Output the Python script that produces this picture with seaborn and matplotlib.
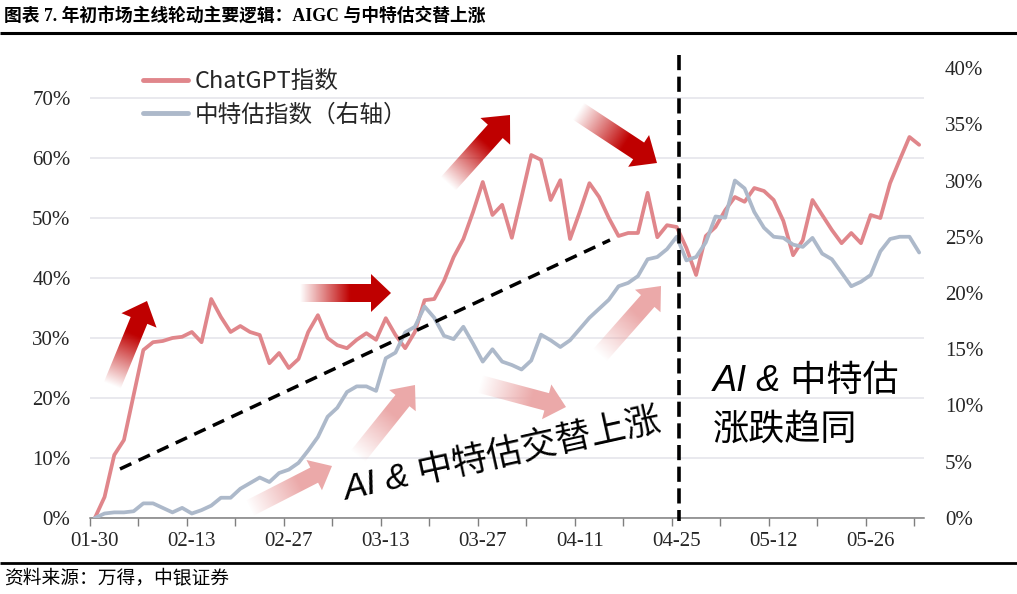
import numpy as np
import pandas as pd
import matplotlib
matplotlib.use('Agg')
import matplotlib.pyplot as plt
import matplotlib.colors as mcolors
import seaborn as sns
from matplotlib.patches import Polygon
from matplotlib.lines import Line2D
from matplotlib.ticker import FixedLocator, FuncFormatter

# ---------------- data (percent) ----------------
chatgpt = [0, 3.5, 10.5, 13, 20.5, 28, 29.3, 29.5, 30, 30.2,
           31, 29.3, 36.5, 33.5, 31, 32, 31, 30.5, 25.8, 27.5,
           25, 26.5, 31, 33.8, 30, 28.8, 28.3, 29.7, 30.8, 29.7,
           33.3, 30.5, 28.3, 31, 36.3, 36.5, 39.5, 43.5, 46.5, 51,
           56, 50.5, 52.2, 46.7, 53.5, 60.5, 59.7, 53, 56.3, 46.5,
           51, 55.8, 53.5, 50, 47, 47.5, 47.5, 54.2, 46.8, 48.8,
           48.5, 45, 40.5, 47, 48.5, 51.3, 53.5, 52.7, 55, 54.5,
           53, 49.5, 43.8, 46.3, 53, 50.5, 48, 45.8, 47.5, 45.8,
           50.5, 50, 55.8, 59.7, 63.5, 62.2]
zhongte = [0, 0.4, 0.5, 0.5, 0.6, 1.3, 1.3, 0.9, 0.5, 0.9,
           0.4, 0.7, 1.1, 1.8, 1.8, 2.6, 3.1, 3.6, 3.2, 4.0,
           4.3, 4.9, 6.0, 7.2, 9.0, 9.8, 11.2, 11.7, 11.7, 11.3,
           14.2, 14.7, 16.5, 17.0, 18.8, 17.8, 16.2, 15.9, 17.0, 15.5,
           13.9, 15.0, 13.9, 13.6, 13.2, 14.0, 16.3, 15.8, 15.2, 15.8,
           16.8, 17.8, 18.6, 19.4, 20.6, 20.9, 21.5, 23.0, 23.2, 23.9,
           25.0, 22.9, 23.2, 24.5, 26.8, 26.7, 30.0, 29.3, 27.2, 25.8,
           25.0, 24.9, 24.3, 24.1, 24.9, 23.5, 23.0, 21.8, 20.6, 21.0,
           21.6, 23.7, 24.8, 25.0, 25.0, 23.6]
tick_labels = ["01-30", "02-13", "02-27", "03-13", "03-27", "04-11", "04-25", "05-12", "05-26"]
tick_pos = [0, 10, 20, 30, 40, 50, 60, 70, 80]
series_names = ["ChatGPT指数", "中特估指数（右轴）"]
left_ticks = [0, 10, 20, 30, 40, 50, 60, 70]
right_ticks = [0, 5, 10, 15, 20, 25, 30, 35, 40]

title = "图表 7. 年初市场主线轮动主要逻辑：AIGC 与中特估交替上涨"
source = "资料来源：万得，中银证券"
note1 = "AI & 中特估交替上涨"
note2a = "AI & 中特估"
note2b = "涨跌趋同"

RED = '#E0868B'
BLUE = '#ADB9CA'
DARK = '#C00000'
PINK = '#ECAAAA'

sns.set_theme(style='white')
plt.rcParams['font.family'] = ['Liberation Serif', 'Noto Sans CJK SC']
plt.rcParams['axes.unicode_minus'] = False

W, H = 1017, 594
fig = plt.figure(figsize=(W / 100, H / 100), dpi=100)
fig.patch.set_facecolor('white')
L, R, B, T = 90, 924, 518, 68
ax = fig.add_axes([L / W, 1 - B / H, (R - L) / W, (B - T) / H])
ax2 = ax.twinx()

df = pd.DataFrame({'idx': np.arange(len(chatgpt)), 'chatgpt': chatgpt, 'zt': zhongte})
sns.lineplot(data=df, x='idx', y='chatgpt', ax=ax, color=RED, linewidth=2.7)
sns.lineplot(data=df, x='idx', y='zt', ax=ax2, color=BLUE, linewidth=2.7)

pct = FuncFormatter(lambda v, p: f"{v:.0f}%")
ax.set_xlim(-0.5, len(chatgpt) - 0.5)
ax.set_ylim(0, 75)
ax.set_yticks(left_ticks)
ax.yaxis.set_major_formatter(pct)
ax2.set_ylim(0, 40)
ax2.set_yticks(right_ticks)
ax2.yaxis.set_major_formatter(pct)
ax.set_xlabel('')
ax.set_ylabel('')
ax2.set_ylabel('')
ax2.set_xlabel('')

ax.xaxis.set_major_locator(FixedLocator(tick_pos))
ax.set_xticklabels(tick_labels)
ax.xaxis.set_minor_locator(FixedLocator(np.arange(-0.5, len(chatgpt), 5)))
ax.tick_params(axis='x', which='major', length=0, pad=10, labelsize=15, bottom=True)
ax.tick_params(axis='x', which='minor', length=6, width=1, color='#7F7F7F', direction='out', bottom=True)
ax.tick_params(axis='y', length=0, pad=14, labelsize=15)
ax2.tick_params(axis='y', length=0, pad=15, labelsize=15)

ax.yaxis.grid(True, color='#E3E3EA', linewidth=1.1)
ax.xaxis.grid(False)
ax2.grid(False)
for s in ['left', 'right', 'top']:
    ax.spines[s].set_visible(False)
for s in ax2.spines:
    ax2.spines[s].set_visible(False)
ax.spines['bottom'].set_color('#7F7F7F')
ax.spines['bottom'].set_linewidth(1.1)

# ---------------- overlay for annotations (pixel coordinates) ----------------
ov = fig.add_axes([0, 0, 1, 1], zorder=10)
ov.set_xlim(0, W)
ov.set_ylim(H, 0)
ov.axis('off')
ov.patch.set_alpha(0)


def grad_arrow(tail, tip, w, hw, hl, color, fade=0.6):
    p0 = np.array(tail, float)
    p1 = np.array(tip, float)
    d = p1 - p0
    ln = np.hypot(*d)
    u = d / ln
    n = np.array([-u[1], u[0]])
    pb = p1 - u * hl
    pts = np.array([p0 + n * w / 2, pb + n * w / 2, pb + n * hw / 2, p1,
                    pb - n * hw / 2, pb - n * w / 2, p0 - n * w / 2])
    poly = Polygon(pts, closed=True, facecolor='none', edgecolor='none', transform=ov.transData)
    ov.add_patch(poly)
    x0, y0 = pts.min(0) - 2
    x1, y1 = pts.max(0) + 2
    nx = int(np.ceil(x1 - x0)) * 2
    ny = int(np.ceil(y1 - y0)) * 2
    xs = x0 + (np.arange(nx) + 0.5) * (x1 - x0) / nx
    ys = y0 + (np.arange(ny) + 0.5) * (y1 - y0) / ny
    X, Y = np.meshgrid(xs, ys)
    t = ((X - p0[0]) * u[0] + (Y - p0[1]) * u[1]) / ln
    a = np.clip(t / fade, 0, 1)
    img = np.zeros((ny, nx, 4))
    img[..., :3] = mcolors.to_rgb(color)
    img[..., 3] = a
    im = ov.imshow(img, extent=(x0, x1, y1, y0), origin='upper',
                   interpolation='bilinear', aspect='auto', zorder=3)
    im.set_clip_path(poly)


# dark red arrows
grad_arrow((112, 386), (147, 301), 18, 38, 21, DARK, 0.6)
grad_arrow((300, 293), (391, 293), 18, 38, 20, DARK, 0.55)
grad_arrow((448, 184), (510, 115), 20, 40, 22, DARK, 0.6)
grad_arrow((578, 111), (657, 163), 20, 38, 22, DARK, 0.6)
# pink arrows
grad_arrow((250, 508), (332, 466), 17, 34, 20, PINK, 0.6)
grad_arrow((358, 456), (415, 385), 18, 34, 20, PINK, 0.6)
grad_arrow((480, 384), (566, 407), 18, 36, 20, PINK, 0.6)
grad_arrow((600, 355), (661, 286), 18, 34, 20, PINK, 0.6)

# dashed lines
ov.plot([120, 610], [469, 240], color='black', lw=2.5, dashes=(3.6, 2.3), zorder=4)
ov.plot([679, 679], [55, 521], color='black', lw=2.6, dashes=(4.2, 1.8), zorder=4)

# texts
cjk_sans = ['Liberation Sans', 'Noto Sans CJK SC']
ov.text(502, 455, note1, rotation=12.5, rotation_mode='anchor', ha='center', va='center',
        fontsize=25.5, style='italic', fontweight='medium', family=cjk_sans, color='black', zorder=5)
ov.text(713, 381, note2a, ha='left', va='center', fontsize=26, style='italic', fontweight='medium',
        family=cjk_sans, color='black', zorder=5)
ov.text(713, 430, note2b, ha='left', va='center', fontsize=26, style='italic', fontweight='medium',
        family=cjk_sans, color='black', zorder=5)

# legend
handles = [Line2D([], [], color=RED, lw=3.5), Line2D([], [], color=BLUE, lw=3.5)]
ov.legend(handles, series_names, loc='upper left', bbox_to_anchor=(143, 70),
          bbox_transform=ov.transData, frameon=False, handlelength=1.9,
          handletextpad=0.3, labelspacing=0.45, borderpad=0, borderaxespad=0,
          prop={'family': ['Noto Sans CJK SC'], 'size': 17})

# title, rules, source
ov.text(4, 17, title, ha='left', va='center', fontsize=12.8, fontweight='bold',
        family=['Liberation Serif', 'Noto Sans CJK SC'], color='black')
ov.plot([0, W], [33, 33], color='black', lw=2.2, solid_capstyle='butt')
ov.plot([0, W], [563, 563], color='black', lw=2.0, solid_capstyle='butt')
ov.text(4, 578, source, ha='left', va='center', fontsize=13.5, style='italic',
        family=['Noto Sans CJK SC'], color='black')

ov.set_xlim(0, W)
ov.set_ylim(H, 0)

fig.savefig('out.png', dpi=100, facecolor='white')
